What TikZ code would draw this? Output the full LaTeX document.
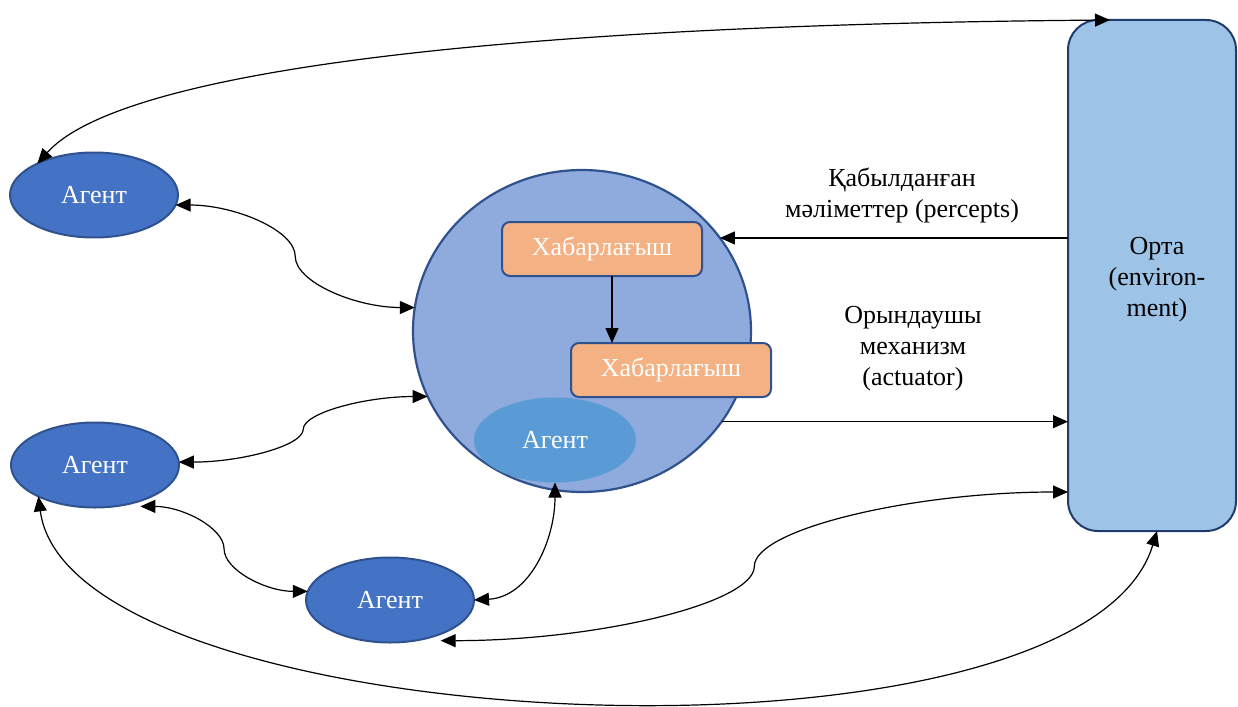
\documentclass[tikz,border=0pt]{standalone}
\usepackage{fontspec}
\setmainfont{Liberation Serif}
\usetikzlibrary{arrows.meta,calc,shapes.geometric}

\definecolor{agentblue}{HTML}{4472C4}
\definecolor{edgeblue}{HTML}{2F528F}
\definecolor{circfill}{HTML}{8FAADC}
\definecolor{boxfill}{HTML}{F4B183}
\definecolor{innerfill}{HTML}{5B9BD5}
\definecolor{envfill}{HTML}{9DC3E6}
\definecolor{envedge}{HTML}{213C6B}

\begin{document}
\begin{tikzpicture}[x=1pt,y=-1pt,
  every node/.style={font=\fontsize{26}{31}\selectfont},
  agent/.style={ellipse, fill=agentblue, draw=edgeblue, line width=2pt,
    minimum width=168pt, minimum height=85pt, inner sep=0pt, outer sep=0pt, text=white},
  bigcirc/.style={ellipse, fill=circfill, draw=edgeblue, line width=2.2pt,
    minimum width=338pt, minimum height=322pt, inner sep=0pt, outer sep=0pt},
  inneragent/.style={ellipse, fill=innerfill, minimum width=162pt, minimum height=85pt,
    inner sep=0pt, outer sep=0pt, text=white},
  msgbox/.style={rectangle, rounded corners=8pt, fill=boxfill, draw=edgeblue, line width=2pt,
    minimum width=200pt, minimum height=54pt, inner sep=0pt, outer sep=0pt, text=white},
  envbox/.style={rectangle, rounded corners=30pt, fill=envfill, draw=envedge, line width=2pt,
    minimum width=168pt, minimum height=511pt, inner sep=0pt, outer sep=0pt},
  conn/.style={line width=1.2pt, -{Triangle[length=15pt,width=13pt]}},
  dconn/.style={line width=1.2pt, {Triangle[length=15pt,width=13pt]}-{Triangle[length=15pt,width=13pt]}},
]
\useasboundingbox (0,0) rectangle (1238,706);

% shapes
\node[envbox] (env) at (1152,275.5) {};
\node[align=center] (envtext) at (1157,280) {Орта\\(environ-\\ment)};
\node[bigcirc] (c) at (582,331) {};
\node[inneragent] (ia) at (555,440) {Агент};
\node[msgbox] (b1) at (602,249) {Хабарлағыш};
\node[msgbox] (b2) at (671,370) {Хабарлағыш};
\node[agent] (a1) at (94,195) {Агент};
\node[agent] (a2) at (95,465) {Агент};
\node[agent] (a3) at (390,600) {Агент};

% labels
\node[align=center] (lp) at (902,195) {Қабылданған\\мәліметтер (percepts)};
\node[align=center] (la) at (913,349) {Орындаушы\\механизм\\(actuator)};

% inner arrow
\coordinate (bs) at ($(b1.south)+(10,0)$);
\draw[conn] (bs) -- (bs |- b2.north);

% percepts and actuator
\draw[conn] (env.west |- c.34) -- (c.34);
\draw[conn] (c.-33.5) -- (c.-33.5 -| env.west);

% top long arc
\draw[dconn] (a1.151) .. controls +(83,-93) and +(-610,5) .. ($(env.north west)+(42,0)$);

% S-curves
\draw[dconn] (a1.-7) .. controls +(59,0) and +(0,-26) .. ($(a1.-7)!0.5!(c.172)$)
  .. controls +(0,26) and +(-59,0) .. (c.172);
\draw[dconn] (a2.2) .. controls +(62,0) and +(0,16.5) .. ($(a2.2)!0.5!(c.203)$)
  .. controls +(0,-16.5) and +(-62,0) .. (c.203);
\coordinate (a2p) at ($(a2.-40)+(2,5)$);
\draw[dconn] (a2p) .. controls +(42,0) and +(0,-21) .. ($(a2p)!0.5!(a3.174)$)
  .. controls +(0,21) and +(-42,0) .. (a3.174);
\coordinate (a3p) at ($(a3.-38)+(5,5)$);
\coordinate (envp) at ($(env.south west)+(0,-39)$);
\draw[dconn] (a3p) .. controls +(156,0) and +(0,37) .. ($(a3p)!0.5!(envp)$)
  .. controls +(0,-37) and +(-156,0) .. (envp);

% agent3 to inner agent
\draw[dconn] (a3.east) .. controls +(56,-3) and +(0,57) .. (ia.south);

% bottom long arc
\draw[dconn] (a2.209) .. controls +(32,244) and +(-77,255) .. ($(env.south)+(5,0)$);
\end{tikzpicture}
\end{document}
